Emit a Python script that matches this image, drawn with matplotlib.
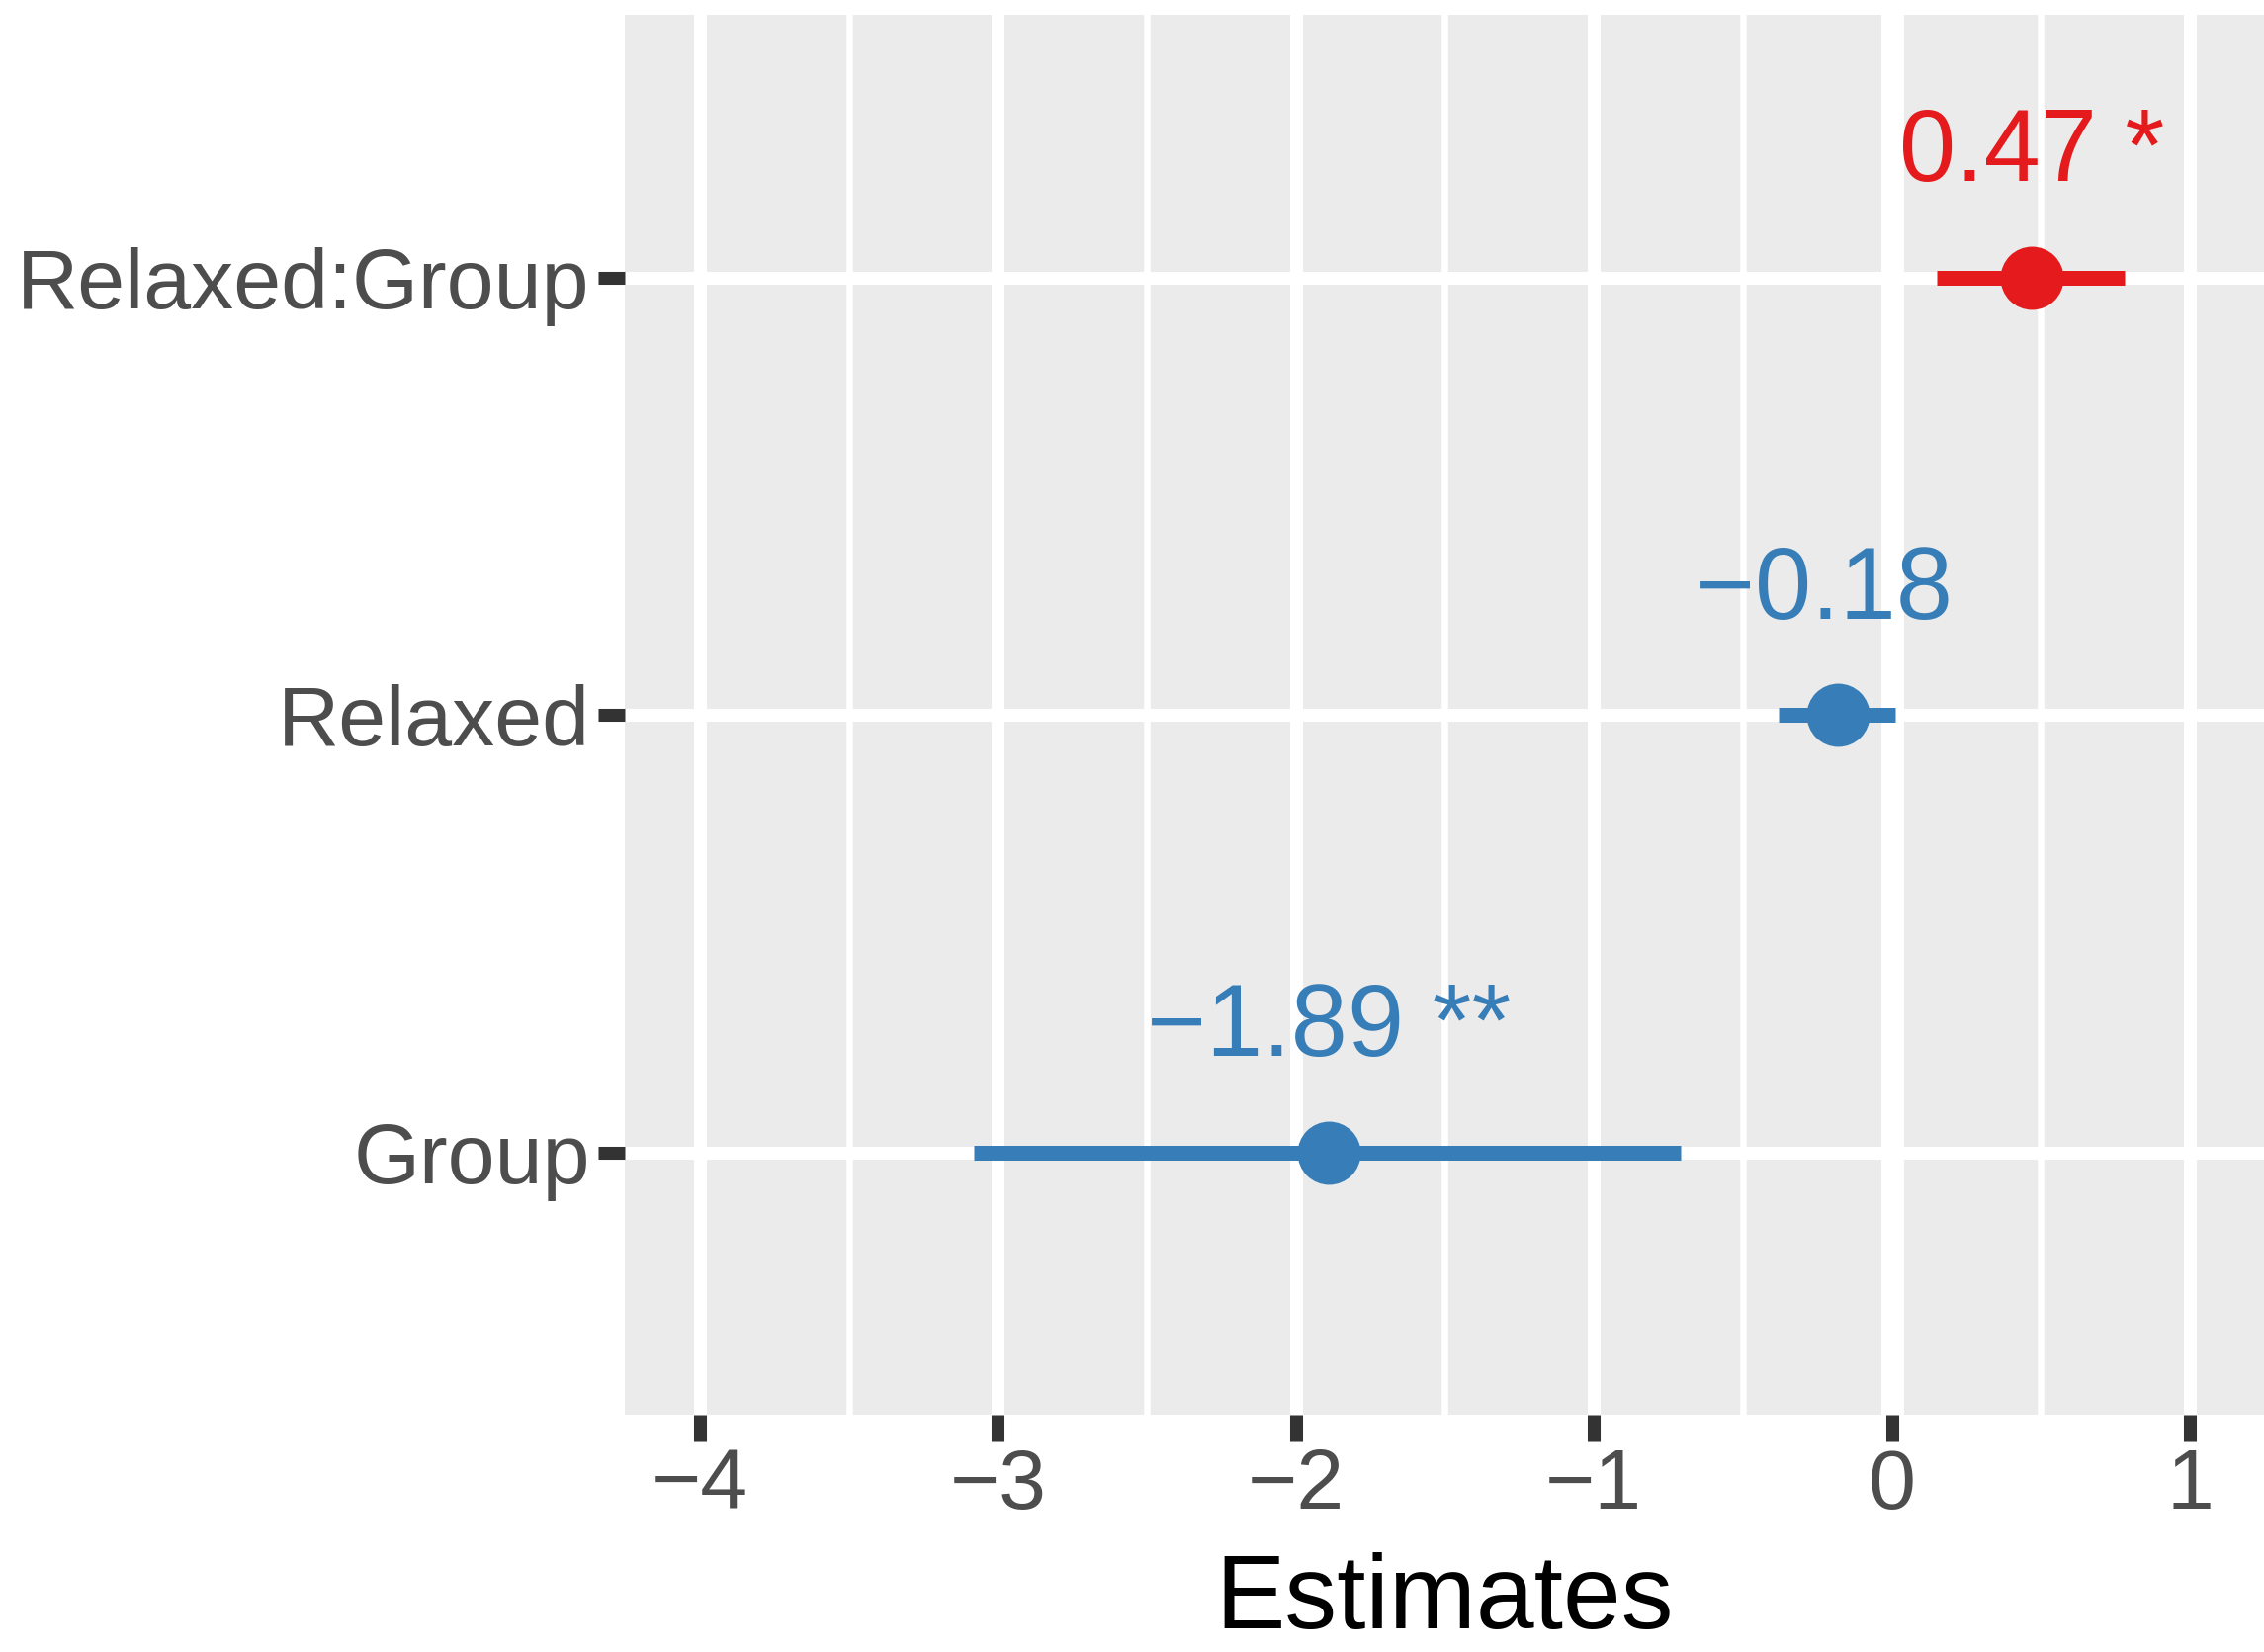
"""Forest plot of model estimates with confidence intervals."""

import matplotlib.pyplot as plt
from matplotlib.ticker import MultipleLocator

plt.rcParams["font.family"] = ["Liberation Sans", "DejaVu Sans"]

TERMS = ["Group", "Relaxed", "Relaxed:Group"]
ESTIMATES = [-1.89, -0.18, 0.47]
CI_LOW = [-3.08, -0.38, 0.15]
CI_HIGH = [-0.71, 0.01, 0.78]
STARS = ["**", "", "*"]
COLORS = ["#377EB8", "#377EB8", "#E41A1C"]

X_TICKS = [-4, -3, -2, -1, 0, 1]


def main():
    fig = plt.figure(figsize=(22.9, 16.71), dpi=100)
    ax = fig.add_axes([0.276, 0.1436, 0.724, 0.8474])
    ax.set_facecolor("#EBEBEB")
    for side in ax.spines.values():
        side.set_visible(False)

    ypos = list(range(1, len(TERMS) + 1))

    # grid in ggplot style: thick white majors, thinner minors on x
    ax.set_axisbelow(True)
    ax.xaxis.set_minor_locator(MultipleLocator(0.5))
    ax.grid(True, which="major", color="white", linewidth=9.4)
    ax.grid(True, which="minor", axis="x", color="white", linewidth=4.7)
    ax.axvline(0, color="white", linewidth=16.5, zorder=1)

    for y, est, lo, hi, star, col in zip(ypos, ESTIMATES, CI_LOW, CI_HIGH, STARS, COLORS):
        ax.hlines(y, lo, hi, color=col, linewidth=10.8, capstyle="butt", zorder=3)
        ax.plot(est, y, "o", color=col, markersize=46, markeredgewidth=0, zorder=4)
        label = f"{est:.2f} {star}".replace("-", "\u2212")
        ax.text(est, y + 0.22, label, color=col, fontsize=74,
                ha="center", va="baseline", zorder=5)

    ax.set_xlim(-4.252, 1.249)
    ax.set_ylim(0.4, 3.6)
    ax.set_xticks(X_TICKS)
    ax.set_yticks(ypos)
    ax.set_yticklabels(TERMS)

    ax.tick_params(axis="both", which="major", length=19.4, width=9.4,
                   color="#333333", labelcolor="#4D4D4D", labelsize=62)
    ax.tick_params(axis="x", pad=4)
    ax.tick_params(axis="y", pad=6)
    ax.tick_params(which="minor", length=0)

    ax.set_xlabel("Estimates", fontsize=76, color="black", labelpad=19)

    fig.savefig("out.png", dpi=100)
    plt.close(fig)


if __name__ == "__main__":
    main()
